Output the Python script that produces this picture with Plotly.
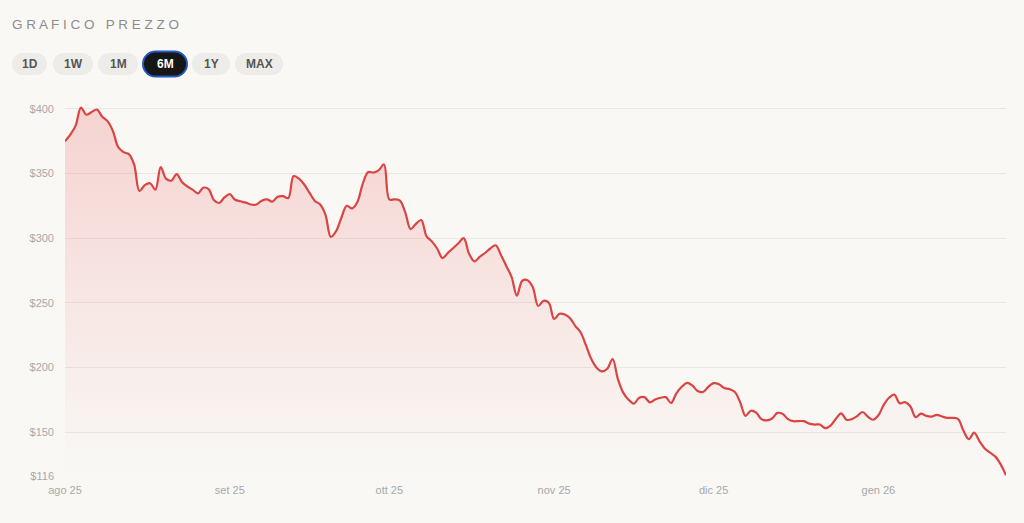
import pandas as pd
import plotly.graph_objects as go

# prezzi giornalieri (1 ago 2025 -> 25 gen 2026)
start_date = "2025-08-01"
prices = [
    375, 380, 387, 401, 395.5, 397.5, 399.5, 394, 390.5, 383,
    370.5, 366.5, 365, 357, 336.5, 341, 342.5, 337.5, 355, 346,
    344.5, 349.5, 343.5, 340, 337.5, 334.7, 339, 338, 329.5, 327.2,
    331.5, 334, 329.7, 328.5, 327.5, 326, 326, 329, 330, 328.3,
    332, 332.5, 331, 348, 346, 341.5, 335, 328.8, 326, 318,
    301, 305.5, 316, 325, 323, 328, 342, 351, 350.8, 352.5,
    357, 330, 330, 329, 320, 307, 311, 314, 301.5, 297.5,
    292, 284.6, 288.5, 292.2, 296, 300, 288, 282, 285.5, 288.5,
    292, 294.5, 287, 278.5, 270, 255.5, 267, 267.5, 262, 247.5,
    251.5, 250, 237.5, 241.5, 241, 238, 232, 227, 217, 206.5,
    199.8, 197, 199, 206.5, 191, 180.5, 175, 172, 176.5, 177,
    173, 175.2, 176.5, 177, 172.5, 180, 185, 188, 186, 181.8,
    181, 185, 187.8, 187, 184, 183.2, 181, 173, 162.5, 166.5,
    165, 160, 159, 160.5, 164.8, 164, 160, 158.4, 158.5, 158.4,
    156.5, 155.8, 155.8, 153, 155, 160.3, 164.5, 159.5, 160, 162.3,
    165.5, 162, 159.5, 163, 171, 176.5, 179, 172.2, 173.2, 170,
    161.5, 164.2, 162.5, 162, 163.3, 162, 161, 161, 160, 151,
    144.5, 149.5, 143, 137.3, 134, 131, 125, 116.5,
]
dates = pd.date_range(start_date, periods=len(prices), freq="D")

month_ticks = ["2025-08-01", "2025-09-01", "2025-10-01", "2025-11-01", "2025-12-01", "2026-01-01"]
month_labels = ["ago 25", "set 25", "ott 25", "nov 25", "dic 25", "gen 26"]
price_ticks = [116, 150, 200, 250, 300, 350, 400]
price_labels = ["$" + str(v) for v in price_ticks]
range_buttons = ["1D", "1W", "1M", "6M", "1Y", "MAX"]
active_range = "6M"

W, H = 1024, 523
L, R, T, B = 65, 18, 105, 47
BG = "#f9f8f5"
RED = "#da4442"


def px(x):
    return (x - L) / (W - L - R)


def py(y):
    return (H - B - y) / (H - T - B)


def pill_path(x0, x1, y0, y1):
    r = (y1 - y0) / 2
    cy = (y0 + y1) / 2
    k = 0.5523 * r
    pts = [
        ("M", [(x0 + r, y0)]),
        ("L", [(x1 - r, y0)]),
        ("C", [(x1 - r + k, y0), (x1, cy - k), (x1, cy)]),
        ("C", [(x1, cy + k), (x1 - r + k, y1), (x1 - r, y1)]),
        ("L", [(x0 + r, y1)]),
        ("C", [(x0 + r - k, y1), (x0, cy + k), (x0, cy)]),
        ("C", [(x0, cy - k), (x0 + r - k, y0), (x0 + r, y0)]),
    ]
    s = ""
    for cmd, coords in pts:
        s += cmd + " " + " ".join(f"{px(a):.5f},{py(b):.5f}" for a, b in coords) + " "
    return s + "Z"


fig = go.Figure()
fig.add_trace(go.Scatter(
    x=dates, y=prices, mode="lines",
    line=dict(color=RED, width=2.2, shape="spline", smoothing=1.0),
    fill="tozeroy",
    fillgradient=dict(
        type="vertical", start=116, stop=max(prices),
        colorscale=[[0, "rgba(232,80,80,0.0)"], [1, "rgba(232,80,80,0.22)"]],
    ),
    hoverinfo="x+y", showlegend=False,
))

# pulsanti intervallo
pill_x = [(12, 47), (53, 93), (98, 138), (143, 187), (192, 230), (235, 283)]
shapes = []
annotations = []
for label, (x0, x1) in zip(range_buttons, pill_x):
    if label == active_range:
        shapes.append(dict(type="path", xref="paper", yref="paper",
                           path=pill_path(x0, x1, 51.5, 76.5),
                           fillcolor="#161616", line=dict(color="#2457c5", width=2)))
        fcol = "#ffffff"
    else:
        shapes.append(dict(type="path", xref="paper", yref="paper",
                           path=pill_path(x0, x1, 53, 75),
                           fillcolor="#eeece8", line=dict(width=0)))
        fcol = "#555555"
    annotations.append(dict(x=px((x0 + x1) / 2), y=py(64), xref="paper", yref="paper",
                            text=f"<b>{label}</b>", showarrow=False,
                            xanchor="center", yanchor="middle",
                            font=dict(size=12, color=fcol, family="Liberation Sans")))

annotations.append(dict(x=px(10), y=py(24), xref="paper", yref="paper",
                        text="G R A F I C O   P R E Z Z O", showarrow=False,
                        xanchor="left", yanchor="middle",
                        font=dict(size=13.5, color="#8c8c8c", family="Liberation Sans")))

fig.update_layout(
    width=W, height=H,
    margin=dict(l=L, r=R, t=T, b=B),
    paper_bgcolor=BG, plot_bgcolor=BG,
    font=dict(family="Liberation Sans", color="#a8a8a8", size=11),
    shapes=shapes, annotations=annotations,
    xaxis=dict(
        type="date", range=[dates[0], dates[-1]],
        tickvals=month_ticks, ticktext=month_labels,
        showgrid=False, zeroline=False, showline=False, ticks="",
        ticklabelstandoff=6,
        tickfont=dict(size=11, color="#a8a8a8"),
    ),
    yaxis=dict(
        range=[116, 403], tickvals=price_ticks, ticktext=price_labels,
        showgrid=True, gridcolor="#ebe8e4", gridwidth=1,
        zeroline=False, showline=False, ticks="",
        ticklabelstandoff=10,
        tickfont=dict(size=11, color="#a8a8a8"),
    ),
)

fig.write_html("out.html", config={"displayModeBar": False},
               post_script="document.body.style.margin='0px';"
               "document.body.style.background='" + BG + "';")
